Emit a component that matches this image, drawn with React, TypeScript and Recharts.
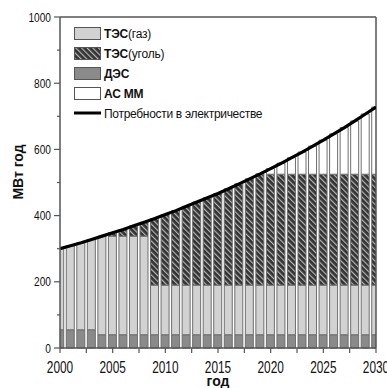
import React from 'react';
import {
  ComposedChart,
  Bar,
  Line,
  XAxis,
  YAxis,
  ReferenceLine
} from 'recharts';

// years 2000..2030
const years = [
  2000, 2001, 2002, 2003, 2004, 2005, 2006, 2007, 2008, 2009, 2010,
  2011, 2012, 2013, 2014, 2015, 2016, 2017, 2018, 2019, 2020,
  2021, 2022, 2023, 2024, 2025, 2026, 2027, 2028, 2029, 2030
];

// electricity demand, MW*year
const demand = [
  300, 309, 318, 328, 338, 348, 358, 369, 380, 391, 403,
  415, 428, 441, 454, 467, 481, 496, 511, 526, 542,
  558, 575, 592, 610, 628, 647, 666, 686, 707, 728
];

const des = [
  55, 55, 55, 55, 40, 40, 40, 40, 40, 40, 40,
  40, 40, 40, 40, 40, 40, 40, 40, 40, 40,
  40, 40, 40, 40, 40, 40, 40, 40, 40, 40
];

const gas = [
  245, 254, 263, 273, 298, 298, 298, 298, 298, 150, 150,
  150, 150, 150, 150, 150, 150, 150, 150, 150, 150,
  150, 150, 150, 150, 150, 150, 150, 150, 150, 150
];

const coal = [
  0, 0, 0, 0, 0, 10, 20, 31, 42, 201, 213,
  225, 238, 251, 264, 277, 291, 306, 321, 335, 335,
  335, 335, 335, 335, 335, 335, 335, 335, 335, 335
];

const asmm = [
  0, 0, 0, 0, 0, 0, 0, 0, 0, 0, 0,
  0, 0, 0, 0, 0, 0, 0, 0, 1, 17,
  33, 50, 67, 85, 103, 122, 141, 161, 182, 203
];

const xTicks = [2000, 2002.5, 2005, 2007.5, 2010, 2012.5, 2015, 2017.5, 2020, 2022.5, 2025, 2027.5, 2030];
const yTicks = [0, 100, 200, 300, 400, 500, 600, 700, 800, 900, 1000];

const data = years.map((year, i) => ({
  year,
  des: des[i],
  gas: gas[i],
  coal: coal[i],
  asmm: asmm[i],
  demand: demand[i]
}));

const sans = "'Liberation Sans', Arial, sans-serif";
const AXIS = '#555';
const BAR_STROKE = '#6e6e6e';

// no narrow font installed, so squeeze the tick labels horizontally
const XTick = (props: any) => {
  const { x, payload } = props;
  const v = payload.value;
  const major = v % 5 === 0;
  return (
    <g>
      <line x1={x} y1={348} x2={x} y2={353} stroke={AXIS} strokeWidth={1.2} />
      {major && (
        <text
          transform={`translate(${x}, 373) scale(0.74, 1)`}
          textAnchor="middle"
          fontFamily={sans}
          fontSize={16}
          fill="#111"
        >
          {v}
        </text>
      )}
    </g>
  );
};

const YTick = (props: any) => {
  const { y, payload } = props;
  const v = payload.value;
  const major = v % 200 === 0;
  return (
    <g>
      <line x1={major ? 54 : 57} y1={y} x2={60} y2={y} stroke={AXIS} strokeWidth={1.2} />
      {major && (
        <text
          transform={`translate(51, ${y + 4.5}) scale(0.78, 1)`}
          textAnchor="end"
          fontFamily={sans}
          fontSize={13}
          fill="#111"
        >
          {v}
        </text>
      )}
    </g>
  );
};

const legendRows = [
  { key: 'gas', bold: 'ТЭС', rest: '(газ)', fill: '#d2d2d2' },
  { key: 'coal', bold: 'ТЭС', rest: '(уголь)', fill: 'url(#coalHatch)' },
  { key: 'des', bold: 'ДЭС', rest: '', fill: '#8a8a8a' },
  { key: 'asmm', bold: 'АС ММ', rest: '', fill: '#ffffff' }
];

const LegendBox = () => (
  <svg
    width={200}
    height={100}
    style={{ position: 'absolute', left: 74, top: 27, overflow: 'visible' }}
  >
    {legendRows.map((r, i) => (
      <g key={r.key} transform={`translate(0, ${i * 20})`}>
        <rect x={0.5} y={0.5} width={26} height={12} fill={r.fill} stroke="#555" strokeWidth={1} />
        <text x={30} y={11} fontFamily={sans} fontSize={12} letterSpacing={-0.2} fill="#111">
          <tspan fontWeight="bold">{r.bold}</tspan>
          {r.rest && <tspan>{r.rest}</tspan>}
        </text>
      </g>
    ))}
    <g transform="translate(0, 80)">
      <line x1={0} y1={6} x2={27} y2={6} stroke="#000" strokeWidth={3} />
      <text x={30} y={10.5} fontFamily={sans} fontSize={12} letterSpacing={-0.3} fill="#111">
        Потребности в электричестве
      </text>
    </g>
  </svg>
);

export default function App() {
  return (
    <div style={{ position: 'absolute', left: 0, top: 0, width: 387, height: 388, background: '#fff' }}>
      <svg width={0} height={0} style={{ position: 'absolute' }}>
        <defs>
          <pattern id="coalHatch" patternUnits="userSpaceOnUse" width={4} height={4} patternTransform="rotate(-45)">
            <rect x={0} y={0} width={4} height={4} fill="#333" />
            <rect x={0} y={0} width={1.2} height={4} fill="#b5b5b5" />
          </pattern>
        </defs>
      </svg>
      <ComposedChart
        width={387}
        height={388}
        data={data}
        margin={{ top: 17, right: 11, bottom: 0, left: 0 }}
      >
        <XAxis
          dataKey="year"
          type="number"
          domain={[2000, 2030]}
          ticks={xTicks}
          interval={0}
          allowDataOverflow
          height={40}
          tickLine={false}
          tick={<XTick />}
          axisLine={{ stroke: AXIS, strokeWidth: 1.5 }}
          label={{
            content: () => (
              <text x={218} y={386} textAnchor="middle" fontFamily={sans} fontSize={14} fontWeight="bold" fill="#111">
                год
              </text>
            )
          }}
        />
        <YAxis
          type="number"
          domain={[0, 1000]}
          ticks={yTicks}
          interval={0}
          width={60}
          tickLine={false}
          tick={<YTick />}
          axisLine={{ stroke: AXIS, strokeWidth: 1.5 }}
          label={{
            content: () => (
              <text
                x={23}
                y={172}
                textAnchor="middle"
                fontFamily={sans}
                fontSize={14}
                fontWeight="bold"
                fill="#111"
                transform="rotate(-90 23 172)"
              >
                МВт год
              </text>
            )
          }}
        />
        <ReferenceLine y={1000} stroke={AXIS} strokeWidth={1.5} />
        <ReferenceLine x={2030} stroke={AXIS} strokeWidth={1.5} />
        <Bar dataKey="des" stackId="s" barSize={8} fill="#8a8a8a" stroke={BAR_STROKE} strokeWidth={1} isAnimationActive={false} />
        <Bar dataKey="gas" stackId="s" barSize={8} fill="#d2d2d2" stroke={BAR_STROKE} strokeWidth={1} isAnimationActive={false} />
        <Bar dataKey="coal" stackId="s" barSize={8} fill="url(#coalHatch)" stroke={BAR_STROKE} strokeWidth={1} isAnimationActive={false} />
        <Bar dataKey="asmm" stackId="s" barSize={8} fill="#ffffff" stroke={BAR_STROKE} strokeWidth={1} isAnimationActive={false} />
        <Line
          dataKey="demand"
          type="linear"
          stroke="#000"
          strokeWidth={3.2}
          dot={false}
          isAnimationActive={false}
        />
      </ComposedChart>
      <LegendBox />
    </div>
  );
}
